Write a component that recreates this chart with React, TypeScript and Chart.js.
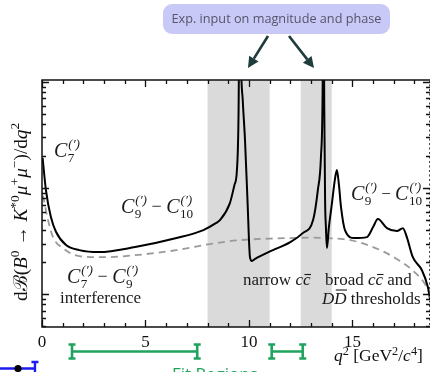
import { useEffect, useRef } from 'react';
import { Chart, registerables } from 'chart.js';

Chart.register(...registerables);

// ---- Data (q^2 in GeV^2/c^4, differential branching fraction, arbitrary log units) ----
const q2Solid = [0.03, 0.19, 0.43, 0.68, 1.16, 1.8, 2.75, 4.5, 6.5, 7.8, 8.4, 8.6, 9.08, 9.3, 9.42, 9.5, 9.56, 9.62, 9.7, 9.81, 9.93, 10.05, 10.14, 10.3, 11.16, 12.0, 12.6, 13.1, 13.33, 13.48, 13.56, 13.6, 13.64, 13.68, 13.72, 13.77, 13.86, 14.0, 14.15, 14.25, 14.35, 14.45, 14.64, 15.1, 15.7, 16.0, 16.23, 16.67, 17.15, 17.44, 17.63, 17.92, 18.36, 18.65, 18.75];
const bfSolid = [19.2, 9.58, 5.33, 3.85, 2.9, 2.6, 2.49, 2.78, 3.38, 4.02, 4.67, 4.99, 7.22, 10.7, 14.8, 54, 2000, 150, 67.7, 28.4, 7.7, 2.23, 2.05, 2.15, 2.6, 3.09, 3.76, 4.99, 9.58, 19.6, 80, 2000, 60, 7.7, 4.29, 2.72, 4.19, 6.9, 11.9, 14.8, 10.7, 6.6, 4.02, 3.38, 3.45, 4.29, 5.1, 4.19, 3.93, 4.19, 3.45, 2.23, 1.68, 1.16, 0.9];
const q2Dashed = [0.05, 0.29, 0.53, 1.0, 1.8, 2.95, 4.5, 6.5, 8.4, 9.57, 11.0, 12.0, 13.0, 13.6, 14.9, 16.0, 17.0, 17.9, 18.6, 18.75];
const bfDashed = [8.5, 4.99, 3.45, 2.72, 2.28, 2.23, 2.33, 2.6, 3.03, 3.23, 3.34, 3.38, 3.41, 3.38, 3.23, 2.78, 2.23, 1.68, 1.16, 0.98];

const xMajorTicks = [0, 5, 10, 15];
const xMinorTicks = [1, 2, 3, 4, 6, 7, 8, 9, 11, 12, 13, 14, 16, 17, 18];
const xTickLabels = ['0', '5', '10', '15'];
const yMajorTicks = [1, 10, 100];
const yMinorTicks = [0.5, 0.6, 0.7, 0.8, 0.9, 2, 3, 4, 5, 6, 7, 8, 9, 20, 30, 40, 50, 60, 70, 80, 90];
const ccBands = [[8, 11], [12.5, 14]];
const fitRanges = [[1.45, 7.5], [11.1, 12.6]];
const otherFitRange = [-2.03, -0.34];
const otherFitPoint = -1.16;

const SERIF = '"Liberation Serif", "DejaVu Serif", serif';

type Run = { t: string; i?: boolean; sup?: boolean; sub?: boolean };

function drawRuns(ctx: CanvasRenderingContext2D, runs: Run[], x: number, y: number, size: number, supRise = 0.42) {
  let cx = x;
  for (const r of runs) {
    const s = r.sup || r.sub ? size * 0.7 : size;
    ctx.font = `${r.i ? 'italic ' : ''}${s}px ${SERIF}`;
    const dy = r.sup ? -size * supRise : r.sub ? size * 0.22 : 0;
    ctx.fillText(r.t, cx, y + dy);
    cx += ctx.measureText(r.t).width;
  }
  return cx - x;
}

function drawC(ctx: CanvasRenderingContext2D, x: number, y: number, sub: string, size: number) {
  ctx.font = `italic ${size}px ${SERIF}`;
  ctx.fillText('C', x, y);
  const wc = ctx.measureText('C').width;
  const s = size * 0.66;
  ctx.font = `italic ${s}px ${SERIF}`;
  ctx.fillText('(\u2032)', x + wc + 1, y - size * 0.45);
  const w1 = ctx.measureText('(\u2032)').width;
  ctx.font = `${s}px ${SERIF}`;
  ctx.fillText(sub, x + wc + 0.5, y + size * 0.27);
  const w2 = ctx.measureText(sub).width;
  return wc + Math.max(w1, w2) + 1;
}

function drawBarred(ctx: CanvasRenderingContext2D, pre: string, ch: string, x: number, y: number, size: number, barH: number) {
  ctx.font = `italic ${size}px ${SERIF}`;
  ctx.fillText(pre + ch, x, y);
  const w0 = ctx.measureText(pre).width;
  const w1 = ctx.measureText(ch).width;
  ctx.save();
  ctx.lineWidth = 1.1;
  ctx.strokeStyle = ctx.fillStyle as string;
  ctx.beginPath();
  ctx.moveTo(x + w0 + 1.5, y - barH);
  ctx.lineTo(x + w0 + w1 + 0.5, y - barH);
  ctx.stroke();
  ctx.restore();
  return w0 + w1;
}

function arrow(ctx: CanvasRenderingContext2D, x0: number, y0: number, x1: number, y1: number) {
  const ang = Math.atan2(y1 - y0, x1 - x0);
  const hl = 11, hw = 5.5;
  const bx = x1 - Math.cos(ang) * hl, by = y1 - Math.sin(ang) * hl;
  ctx.beginPath();
  ctx.moveTo(x0, y0);
  ctx.lineTo(bx, by);
  ctx.stroke();
  ctx.beginPath();
  ctx.moveTo(x1, y1);
  ctx.lineTo(bx + Math.sin(ang) * hw, by - Math.cos(ang) * hw);
  ctx.lineTo(bx - Math.sin(ang) * hw, by + Math.cos(ang) * hw);
  ctx.closePath();
  ctx.fill();
}

function errBar(ctx: CanvasRenderingContext2D, x0: number, x1: number, y: number, h: number, serif: number) {
  ctx.beginPath();
  ctx.moveTo(x0, y);
  ctx.lineTo(x1, y);
  for (const xx of [x0, x1]) {
    ctx.moveTo(xx, y - h);
    ctx.lineTo(xx, y + h);
    ctx.moveTo(xx - serif, y - h);
    ctx.lineTo(xx + serif, y - h);
    ctx.moveTo(xx - serif, y + h);
    ctx.lineTo(xx + serif, y + h);
  }
  ctx.stroke();
}

const decoPlugin = {
  id: 'deco',
  beforeDatasetsDraw(chart: any) {
    const { ctx, chartArea: a, scales } = chart;
    const x = scales.x;
    ctx.save();
    ctx.fillStyle = '#dadada';
    for (const [s, e] of ccBands) {
      const x0 = x.getPixelForValue(s);
      const x1 = x.getPixelForValue(e);
      ctx.fillRect(x0, a.top, x1 - x0, a.bottom - a.top);
    }
    ctx.restore();
  },
  afterDatasetsDraw(chart: any) {
    const { ctx, chartArea: a, scales } = chart;
    const x = scales.x, y = scales.y;
    ctx.save();
    // frame
    ctx.strokeStyle = '#111';
    ctx.lineWidth = 1.5;
    ctx.beginPath();
    ctx.moveTo(a.right, a.top);
    ctx.lineTo(a.left, a.top);
    ctx.lineTo(a.left, a.bottom);
    ctx.lineTo(a.right, a.bottom);
    ctx.stroke();
    ctx.save();
    ctx.lineWidth = 1;
    ctx.strokeStyle = '#444';
    ctx.setLineDash([2, 2.5]);
    ctx.beginPath();
    ctx.moveTo(a.right - 0.5, a.top);
    ctx.lineTo(a.right - 0.5, a.bottom);
    ctx.stroke();
    ctx.restore();
    // x ticks
    ctx.lineWidth = 1.3;
    const xt = (v: number, len: number) => {
      const px = Math.round(x.getPixelForValue(v)) + 0.5;
      ctx.beginPath();
      ctx.moveTo(px, a.bottom);
      ctx.lineTo(px, a.bottom - len);
      ctx.moveTo(px, a.top);
      ctx.lineTo(px, a.top + len);
      ctx.stroke();
    };
    xMajorTicks.forEach((v) => xt(v, 7));
    xMinorTicks.forEach((v) => xt(v, 4));
    // y ticks
    const yt = (v: number, len: number) => {
      const py = Math.round(y.getPixelForValue(v)) + 0.5;
      if (py < a.top || py > a.bottom) return;
      ctx.beginPath();
      ctx.moveTo(a.left, py);
      ctx.lineTo(a.left + len, py);
      ctx.moveTo(a.right, py);
      ctx.lineTo(a.right - len, py);
      ctx.stroke();
    };
    yMajorTicks.forEach((v) => yt(v, 7));
    yMinorTicks.forEach((v) => yt(v, 4));

    // tick labels
    ctx.fillStyle = '#111';
    ctx.font = `17px ${SERIF}`;
    ctx.textAlign = 'center';
    ctx.textBaseline = 'alphabetic';
    xMajorTicks.forEach((v, i) => ctx.fillText(xTickLabels[i], x.getPixelForValue(v), 347));
    ctx.textAlign = 'left';

    // x title
    drawRuns(ctx, [{ t: 'q', i: true }, { t: '2', sup: true }, { t: ' [GeV' }, { t: '2', sup: true }, { t: '/' }, { t: 'c', i: true }, { t: '4', sup: true }, { t: ']' }], 334, 361, 17.5, 0.36);

    // y title
    ctx.save();
    ctx.translate(27, 301);
    ctx.rotate(-Math.PI / 2);
    drawRuns(ctx, [
      { t: 'd\u212C(' }, { t: 'B', i: true }, { t: '0', sup: true }, { t: ' \u2192 ' }, { t: 'K', i: true }, { t: '*0', sup: true },
      { t: '\u03BC', i: true }, { t: '+', sup: true }, { t: '\u03BC', i: true }, { t: '\u2212', sup: true }, { t: ')/d' }, { t: 'q', i: true }, { t: '2', sup: true },
    ], 0, 0, 19.3);
    ctx.restore();

    // in-plot labels
    ctx.fillStyle = '#1a1a1a';
    drawC(ctx, 54, 157, '7', 20);
    let cx = 121;
    cx += drawC(ctx, cx, 213, '9', 20);
    ctx.font = `18px ${SERIF}`;
    ctx.fillText(' \u2212 ', cx, 212);
    cx += ctx.measureText(' \u2212 ').width;
    drawC(ctx, cx, 213, '10', 20);

    cx = 67;
    cx += drawC(ctx, cx, 283, '7', 20);
    ctx.font = `18px ${SERIF}`;
    ctx.fillText(' \u2212 ', cx, 282);
    cx += ctx.measureText(' \u2212 ').width;
    drawC(ctx, cx, 283, '9', 20);
    ctx.font = `17px ${SERIF}`;
    ctx.fillText('interference', 60, 303);

    cx = 351;
    cx += drawC(ctx, cx, 200, '9', 20);
    ctx.font = `17px ${SERIF}`;
    ctx.fillText(' \u2212 ', cx, 199);
    cx += ctx.measureText(' \u2212 ').width;
    drawC(ctx, cx, 200, '10', 20);

    ctx.font = `17px ${SERIF}`;
    ctx.fillText('narrow ', 243, 285);
    cx = 243 + ctx.measureText('narrow ').width;
    drawBarred(ctx, 'c', 'c', cx, 285, 17, 10.5);

    ctx.font = `17px ${SERIF}`;
    ctx.fillText('broad ', 325, 285);
    cx = 325 + ctx.measureText('broad ').width;
    cx += drawBarred(ctx, 'c', 'c', cx, 285, 17, 10.5);
    ctx.font = `17px ${SERIF}`;
    ctx.fillText(' and', cx, 285);

    cx = 322;
    cx += drawBarred(ctx, 'D', 'D', cx, 304, 17, 14);
    ctx.font = `17px ${SERIF}`;
    ctx.fillText(' thresholds', cx, 304);

    // annotation box
    ctx.fillStyle = '#c8c9f7';
    ctx.beginPath();
    (ctx as any).roundRect(163, 4, 227, 30, 9);
    ctx.fill();
    ctx.fillStyle = '#55556a';
    ctx.font = `12.7px "Open Sans", "Noto Sans", sans-serif`;
    ctx.textAlign = 'center';
    ctx.textBaseline = 'middle';
    ctx.fillText('Exp. input on magnitude and phase', 276.5, 19);
    ctx.textAlign = 'left';
    ctx.textBaseline = 'alphabetic';

    // arrows
    ctx.strokeStyle = '#1f3b3b';
    ctx.fillStyle = '#1f3b3b';
    ctx.lineWidth = 2.6;
    arrow(ctx, 268, 36, 248, 68);
    arrow(ctx, 289, 36, 314, 68);

    // fit ranges (green)
    ctx.strokeStyle = '#1fa35e';
    ctx.lineWidth = 2.6;
    for (const [s, e] of fitRanges) {
      errBar(ctx, x.getPixelForValue(s), x.getPixelForValue(e), 351.5, 7, 3.5);
    }
    ctx.fillStyle = '#1fa35e';
    ctx.font = `17px "Open Sans", "Noto Sans", sans-serif`;
    ctx.textBaseline = 'top';
    ctx.fillText('Fit Regions', 172, 367);
    ctx.textBaseline = 'alphabetic';

    // other fit range (blue, cropped)
    ctx.strokeStyle = '#1c1cf0';
    ctx.lineWidth = 2.4;
    const bx0 = x.getPixelForValue(otherFitRange[0]);
    const bx1 = x.getPixelForValue(otherFitRange[1]);
    ctx.beginPath();
    ctx.moveTo(bx0, 368.5);
    ctx.lineTo(bx1, 368.5);
    ctx.moveTo(bx1, 362);
    ctx.lineTo(bx1, 376);
    ctx.moveTo(bx1 - 3.5, 362);
    ctx.lineTo(bx1 + 3.5, 362);
    ctx.stroke();
    ctx.fillStyle = '#000';
    ctx.beginPath();
    ctx.arc(x.getPixelForValue(otherFitPoint), 368.5, 3.6, 0, Math.PI * 2);
    ctx.fill();

    ctx.restore();
  },
};

export default function App() {
  const ref = useRef<HTMLCanvasElement>(null);
  useEffect(() => {
    if (!ref.current) return;
    const chart = new Chart(ref.current, {
      type: 'line',
      data: {
        datasets: [
          {
            data: q2Solid.map((q, i) => ({ x: q, y: bfSolid[i] })),
            borderColor: '#000',
            borderWidth: 2,
            pointRadius: 0,
            cubicInterpolationMode: 'monotone',
            fill: false,
          },
          {
            data: q2Dashed.map((q, i) => ({ x: q, y: bfDashed[i] })),
            borderColor: '#9a9a9a',
            borderWidth: 1.8,
            borderDash: [7, 5],
            pointRadius: 0,
            cubicInterpolationMode: 'monotone',
            fill: false,
          },
        ],
      },
      options: {
        animation: false,
        responsive: false,
        devicePixelRatio: 1,
        layout: { padding: { left: 42, right: 1, top: 80, bottom: 45 } },
        scales: {
          x: { type: 'linear', min: 0, max: 18.75, display: false },
          y: { type: 'logarithmic', min: 0.49, max: 104.5, display: false },
        },
        plugins: { legend: { display: false }, tooltip: { enabled: false } },
        events: [],
      },
      plugins: [decoPlugin],
    } as any);
    return () => chart.destroy();
  }, []);
  return (
    <div style={{ position: 'fixed', left: 0, top: 0, width: 431, height: 372, background: '#fff' }}>
      <canvas ref={ref} width={431} height={372} style={{ display: 'block', width: 431, height: 372 }} />
    </div>
  );
}
